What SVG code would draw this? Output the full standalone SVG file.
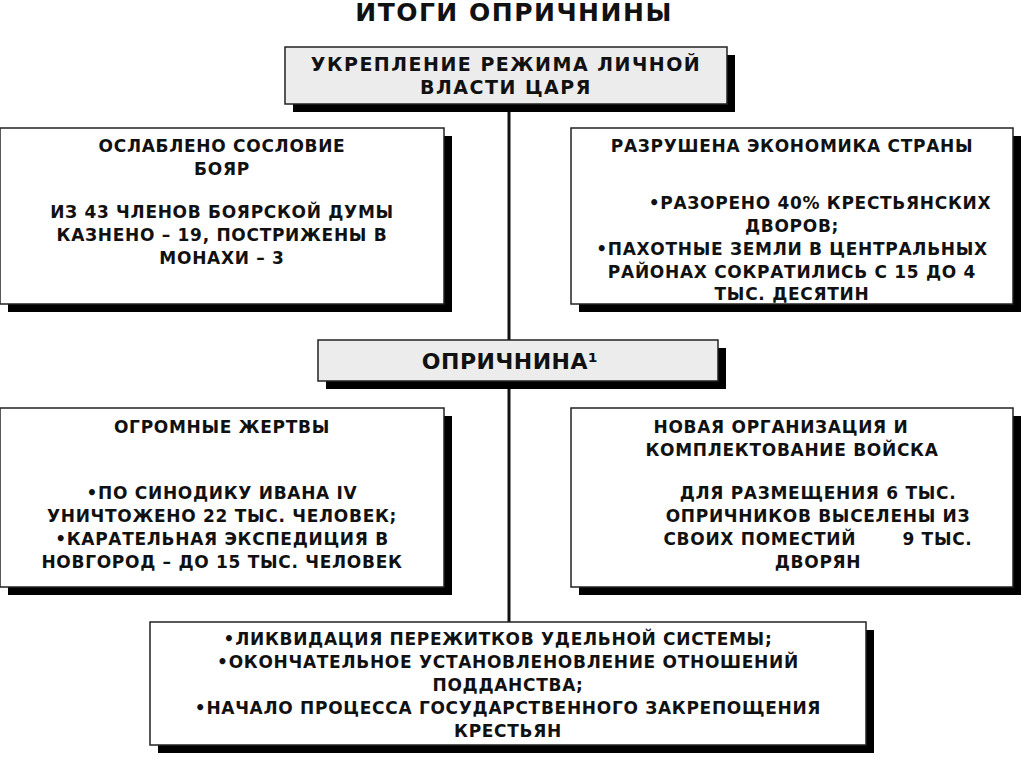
<svg xmlns="http://www.w3.org/2000/svg" width="1024" height="762" viewBox="0 0 1024 762">
<style>
text{font-family:"DejaVu Sans",Verdana,sans-serif;font-weight:bold;fill:#111;font-size:17px;letter-spacing:0.7px;text-anchor:middle}
.sh{fill:#000}
.bx{fill:#fff;stroke:#222;stroke-width:1.5}
.gb{fill:#ececec;stroke:#222;stroke-width:1.5}
</style>
<rect width="1024" height="762" fill="#fff"/>
<text x="514" y="21" style="font-size:25px;letter-spacing:1.5px">ИТОГИ ОПРИЧНИНЫ</text>
<g id="connectors"><line x1="509" y1="104" x2="509" y2="622" stroke="#111" stroke-width="3"/></g>
<g id="n-top"><rect class="sh" x="293" y="55" width="442" height="57"/><rect class="gb" x="285" y="47" width="442" height="57"/>
<text x="506" y="71" style="font-size:19px;letter-spacing:1.5px">УКРЕПЛЕНИЕ РЕЖИМА ЛИЧНОЙ</text><text x="506" y="94" style="font-size:19px;letter-spacing:1.5px">ВЛАСТИ ЦАРЯ</text></g>
<g id="n-boyars"><rect class="sh" x="8" y="136" width="444" height="176"/><rect class="bx" x="0" y="128" width="444" height="176"/>
<text x="222" y="152">ОСЛАБЛЕНО СОСЛОВИЕ</text><text x="222" y="175">БОЯР</text>
<text x="222" y="218">ИЗ 43 ЧЛЕНОВ БОЯРСКОЙ ДУМЫ</text><text x="222" y="241">КАЗНЕНО – 19, ПОСТРИЖЕНЫ В</text><text x="222" y="264">МОНАХИ – 3</text></g>
<g id="n-economy"><rect class="sh" x="579" y="136" width="442" height="176"/><rect class="bx" x="571" y="128" width="442" height="176"/>
<text x="792" y="152">РАЗРУШЕНА ЭКОНОМИКА СТРАНЫ</text>
<text x="820" y="209">•РАЗОРЕНО 40% КРЕСТЬЯНСКИХ</text><text x="792" y="232">ДВОРОВ;</text>
<text x="792" y="255">•ПАХОТНЫЕ ЗЕМЛИ В ЦЕНТРАЛЬНЫХ</text><text x="792" y="278">РАЙОНАХ СОКРАТИЛИСЬ С 15 ДО 4</text><text x="792" y="300">ТЫС. ДЕСЯТИН</text></g>
<g id="n-oprichnina"><rect class="sh" x="326" y="348" width="400" height="41"/><rect class="gb" x="318" y="340" width="400" height="41"/>
<text x="510" y="369" style="font-size:22px;letter-spacing:0.5px">ОПРИЧНИНА¹</text></g>
<g id="n-victims"><rect class="sh" x="8" y="416" width="444" height="179"/><rect class="bx" x="0" y="408" width="444" height="179"/>
<text x="222" y="433">ОГРОМНЫЕ ЖЕРТВЫ</text>
<text x="222" y="499">•ПО СИНОДИКУ ИВАНА IV</text><text x="222" y="522">УНИЧТОЖЕНО 22 ТЫС. ЧЕЛОВЕК;</text>
<text x="222" y="545">•КАРАТЕЛЬНАЯ ЭКСПЕДИЦИЯ В</text><text x="222" y="568">НОВГОРОД – ДО 15 ТЫС. ЧЕЛОВЕК</text></g>
<g id="n-army"><rect class="sh" x="579" y="416" width="442" height="179"/><rect class="bx" x="571" y="408" width="442" height="179"/>
<text x="781" y="433">НОВАЯ ОРГАНИЗАЦИЯ И</text><text x="792" y="456">КОМПЛЕКТОВАНИЕ ВОЙСКА</text>
<text x="818" y="499">ДЛЯ РАЗМЕЩЕНИЯ 6 ТЫС.</text><text x="818" y="522">ОПРИЧНИКОВ ВЫСЕЛЕНЫ ИЗ</text><text x="818" y="545" xml:space="preserve">СВОИХ ПОМЕСТИЙ       9 ТЫС.</text><text x="818" y="568">ДВОРЯН</text></g>
<g id="n-result"><rect class="sh" x="158" y="630" width="716" height="123"/><rect class="bx" x="150" y="622" width="716" height="123"/>
<text x="498" y="645">•ЛИКВИДАЦИЯ ПЕРЕЖИТКОВ УДЕЛЬНОЙ СИСТЕМЫ;</text>
<text x="508" y="668">•ОКОНЧАТЕЛЬНОЕ УСТАНОВЛЕНОВЛЕНИЕ ОТНОШЕНИЙ</text><text x="508" y="691">ПОДДАНСТВА;</text>
<text x="508" y="714">•НАЧАЛО ПРОЦЕССА ГОСУДАРСТВЕННОГО ЗАКРЕПОЩЕНИЯ</text><text x="508" y="737">КРЕСТЬЯН</text></g>
</svg>
